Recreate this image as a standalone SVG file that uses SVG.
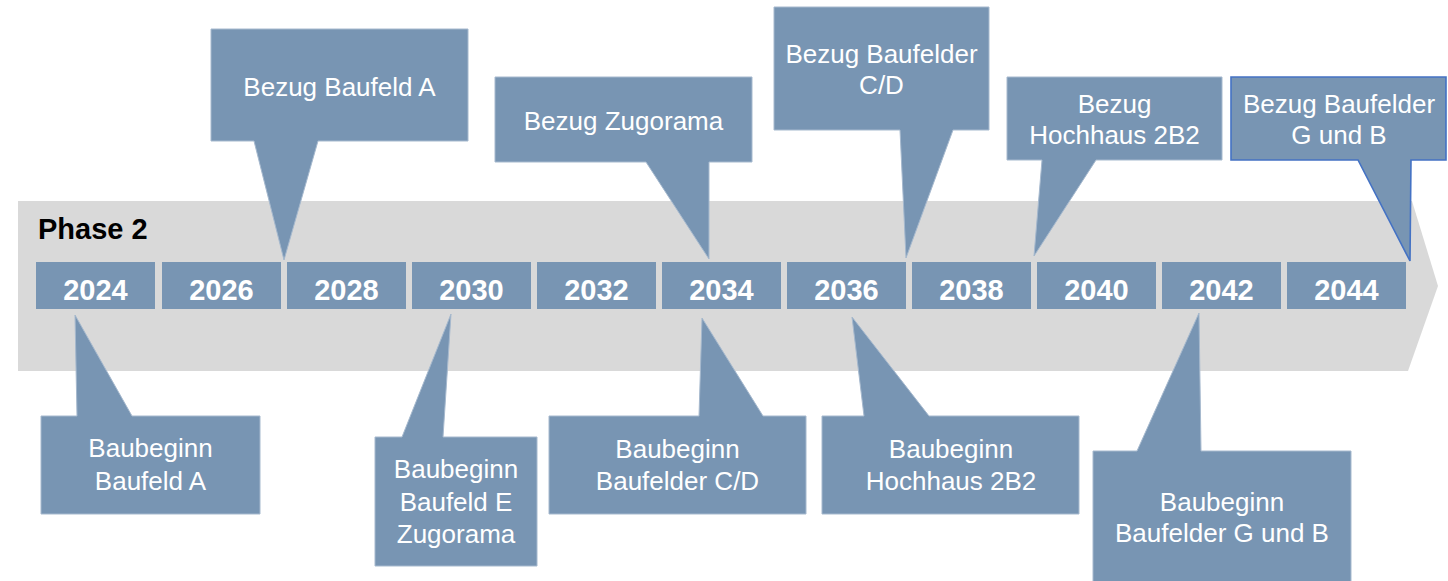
<svg xmlns="http://www.w3.org/2000/svg" width="1448" height="581" viewBox="0 0 1448 581">
<style>
.band{fill:#d9d9d9}
.yr{fill:#7895b3}
.yt{font-family:"Liberation Sans",Arial,sans-serif;font-weight:bold;font-size:29px;fill:#ffffff;text-anchor:middle}
.co{fill:#7895b3;stroke:#a6b9ce;stroke-width:1}
.co2{fill:#7895b3;stroke:#4472c4;stroke-width:1.6}
.ct{font-family:"Liberation Sans",Arial,sans-serif;font-size:26px;fill:#ffffff;text-anchor:middle}
.ph{font-family:"Liberation Sans",Arial,sans-serif;font-weight:bold;font-size:29px;fill:#000000}
</style>
<g id="band">
<polygon class="band" points="18,201 1412,201 1438,286 1408,371 18,371"/>
<text class="ph" x="38" y="239">Phase 2</text>
</g>
<g id="years">
<g id="y2024"><rect class="yr" x="36" y="262" width="119" height="47"/><text class="yt" x="95.5" y="300">2024</text></g>
<g id="y2026"><rect class="yr" x="162" y="262" width="119" height="47"/><text class="yt" x="221.5" y="300">2026</text></g>
<g id="y2028"><rect class="yr" x="287" y="262" width="119" height="47"/><text class="yt" x="346.5" y="300">2028</text></g>
<g id="y2030"><rect class="yr" x="412" y="262" width="119" height="47"/><text class="yt" x="471.5" y="300">2030</text></g>
<g id="y2032"><rect class="yr" x="537" y="262" width="119" height="47"/><text class="yt" x="596.5" y="300">2032</text></g>
<g id="y2034"><rect class="yr" x="662" y="262" width="119" height="47"/><text class="yt" x="721.5" y="300">2034</text></g>
<g id="y2036"><rect class="yr" x="787" y="262" width="119" height="47"/><text class="yt" x="846.5" y="300">2036</text></g>
<g id="y2038"><rect class="yr" x="912" y="262" width="119" height="47"/><text class="yt" x="971.5" y="300">2038</text></g>
<g id="y2040"><rect class="yr" x="1037" y="262" width="119" height="47"/><text class="yt" x="1096.5" y="300">2040</text></g>
<g id="y2042"><rect class="yr" x="1162" y="262" width="119" height="47"/><text class="yt" x="1221.5" y="300">2042</text></g>
<g id="y2044"><rect class="yr" x="1287" y="262" width="119" height="47"/><text class="yt" x="1346.5" y="300">2044</text></g>
</g>
<g id="connectors"></g>
<g id="c1"><path class="co" d="M211,29 H468 V141 H318 L284,260 L254,141 H211 Z"/><text class="ct" x="339.5" y="96">Bezug Baufeld A</text></g>
<g id="c2"><path class="co" d="M495,77 H752 V162 H709 L709,259 L646,162 H495 Z"/><text class="ct" x="623.5" y="130">Bezug Zugorama</text></g>
<g id="c3"><path class="co" d="M774,7 H989 V130 H953 L906,258 L900,130 H774 Z"/><text class="ct" x="881.5" y="63">Bezug Baufelder</text><text class="ct" x="881.5" y="94">C/D</text></g>
<g id="c4"><path class="co" d="M1007,77 H1222 V160 H1096 L1034,256 L1042,160 H1007 Z"/><text class="ct" x="1114.5" y="113">Bezug</text><text class="ct" x="1114.5" y="144">Hochhaus 2B2</text></g>
<g id="c5"><path class="co2" d="M1231,77 H1446 V160 H1411 L1410,261 L1358,160 H1231 Z"/><text class="ct" x="1339" y="113">Bezug Baufelder</text><text class="ct" x="1339" y="144">G und B</text></g>
<g id="c6"><path class="co" d="M41,416 H77 L75,315 L132,416 H260 V514 H41 Z"/><text class="ct" x="150.5" y="457">Baubeginn</text><text class="ct" x="150.5" y="490">Baufeld A</text></g>
<g id="c7"><path class="co" d="M375,437 H402 L451,314 L443,437 H537 V566 H375 Z"/><text class="ct" x="456" y="478">Baubeginn</text><text class="ct" x="456" y="511">Baufeld E</text><text class="ct" x="456" y="543">Zugorama</text></g>
<g id="c8"><path class="co" d="M549,416 H699 L702,318 L763,416 H806 V514 H549 Z"/><text class="ct" x="677.5" y="458">Baubeginn</text><text class="ct" x="677.5" y="490">Baufelder C/D</text></g>
<g id="c9"><path class="co" d="M822,416 H864 L852,317 L929,416 H1079 V514 H822 Z"/><text class="ct" x="951" y="458">Baubeginn</text><text class="ct" x="951" y="490">Hochhaus 2B2</text></g>
<g id="c10"><path class="co" d="M1093,451 H1137 L1199,313 L1201,451 H1351 V590 H1093 Z"/><text class="ct" x="1222" y="511">Baubeginn</text><text class="ct" x="1222" y="542">Baufelder G und B</text></g>
</svg>
